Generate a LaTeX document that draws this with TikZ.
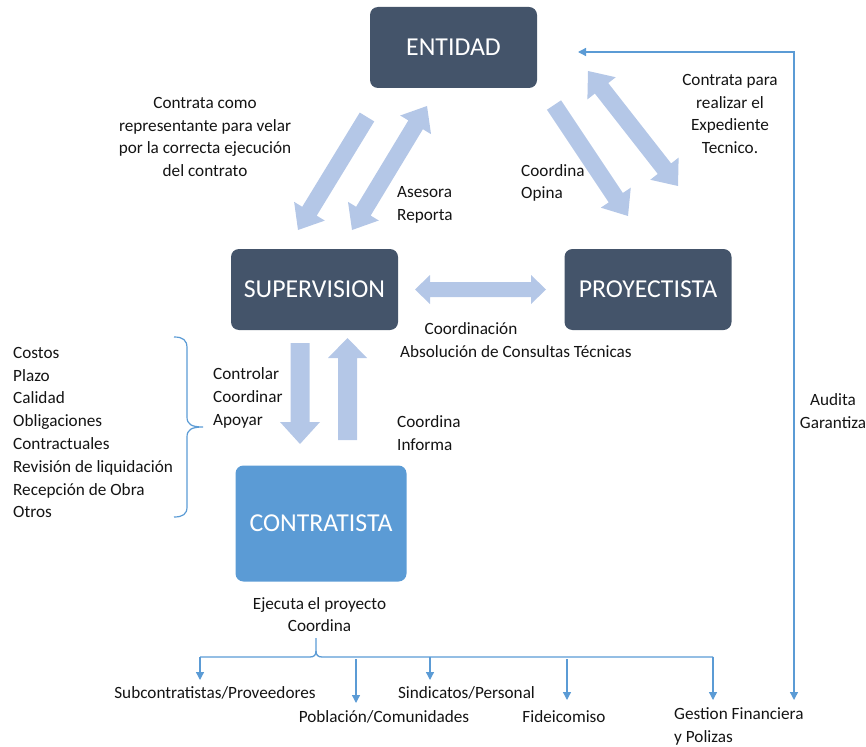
\documentclass[tikz,border=0pt]{standalone}
\usepackage{fontspec}
\setmainfont{Carlito}
\usetikzlibrary{calc,arrows.meta}

\definecolor{boxdark}{HTML}{44546A}
\definecolor{boxblue}{HTML}{5B9BD5}
\definecolor{flowfill}{HTML}{B4C7E7}
\definecolor{linkblue}{HTML}{5B9BD5}

% wide flat arrow: tail, tip, shaft half width, head half width, head length
\newcommand\flowarrow[5]{%
  \coordinate (fa-h) at ($(#2)!#5!(#1)$);
  \fill[flowfill] ($(#1)!#3!90:(#2)$) -- ($(fa-h)!#3!90:(#2)$) -- ($(fa-h)!#4!90:(#2)$)
    -- (#2) -- ($(fa-h)!#4!-90:(#2)$) -- ($(fa-h)!#3!-90:(#2)$) -- ($(#1)!#3!-90:(#2)$) -- cycle;}
% the same with a head at both ends
\newcommand\flowdarrow[5]{%
  \coordinate (fa-h) at ($(#2)!#5!(#1)$);
  \coordinate (fa-t) at ($(#1)!#5!(#2)$);
  \fill[flowfill] (#1) -- ($(fa-t)!#4!90:(#2)$) -- ($(fa-t)!#3!90:(#2)$)
    -- ($(fa-h)!#3!90:(#2)$) -- ($(fa-h)!#4!90:(#2)$) -- (#2)
    -- ($(fa-h)!#4!-90:(#2)$) -- ($(fa-h)!#3!-90:(#2)$)
    -- ($(fa-t)!#3!-90:(#2)$) -- ($(fa-t)!#4!-90:(#2)$) -- cycle;}

\tikzset{
  darkbox/.style={rounded corners=8pt, fill=boxdark, text=white, inner sep=0pt,
    minimum width=167pt, minimum height=81pt, font=\fontsize{25.8}{30}\selectfont},
  bluebox/.style={darkbox, fill=boxblue, minimum width=171pt, minimum height=116pt},
  lbl/.style={inner sep=0pt, font=\fontsize{17.2}{22.8}\selectfont, text=black!92},
  link/.style={draw=linkblue, line width=1.3pt},
  linkarrow/.style={link, -{Triangle[width=8pt,length=8pt]}},
  brace/.style={draw=linkblue, line width=1.2pt}
}

\begin{document}
\begin{tikzpicture}[x=1pt,y=-1pt]
\useasboundingbox (0,0) rectangle (866,746);

% main boxes
\node[darkbox] (ent) at (453.5,47.5) {ENTIDAD};
\node[darkbox] (sup) at (314.5,289.5) {SUPERVISION};
\node[darkbox] (pro) at (648,289.5) {PROYECTISTA};
\node[bluebox] (con) at (321,523.5) {CONTRATISTA};

% flat arrows between the boxes
\coordinate (a1s) at (367,117);  \coordinate (a1e) at (298,230);
\coordinate (a2s) at (352,230);  \coordinate (a2e) at (427,106);
\coordinate (a3s) at (554,105);  \coordinate (a3e) at (628,216);
\coordinate (a4s) at (588,71);   \coordinate (a4e) at (678,186);
\coordinate (a5s) at (415,289.5);\coordinate (a5e) at (546,289.5);
\coordinate (a6s) at (300,343);  \coordinate (a6e) at (300,444);
\coordinate (a7s) at (347.5,440);\coordinate (a7e) at (347.5,338);
\flowarrow{a1s}{a1e}{8.5pt}{18pt}{22pt}
\flowdarrow{a2s}{a2e}{8.5pt}{18pt}{22pt}
\flowarrow{a3s}{a3e}{8.5pt}{18pt}{22pt}
\flowdarrow{a4s}{a4e}{8.5pt}{18pt}{22pt}
\flowdarrow{a5s}{a5e}{7.5pt}{14.5pt}{15pt}
\flowarrow{a6s}{a6e}{9.5pt}{20pt}{22pt}
\flowarrow{a7s}{a7e}{9.5pt}{19.5pt}{20pt}

% labels of the relations
\node[lbl, align=center] (t1) at (205,137) {Contrata como\\representante para velar\\por la correcta ejecución\\del contrato};
\node[lbl, align=left, anchor=west] (t2) at (397,205) {Asesora\\Reporta};
\node[lbl, align=left, anchor=west] (t3) at (521,183) {Coordina\\Opina};
\node[lbl, align=center] (t4) at (730,114) {Contrata para\\realizar el\\Expediente\\Tecnico.};
\node[lbl] (t5) at (471,329) {Coordinación};
\node[lbl] (t6) at (516,352) {Absolución de Consultas Técnicas};
\node[lbl, align=left, anchor=west] (t7) at (213,398) {Controlar\\Coordinar\\Apoyar};
\node[lbl, align=left, anchor=west] (t8) at (397,433) {Coordina\\Informa};
\node[lbl, align=left, anchor=west] (t9) at (13,432.5) {Costos\\Plazo\\Calidad\\Obligaciones\\Contractuales\\Revisión de liquidación\\Recepción de Obra\\Otros};
\node[lbl, align=center] (t10) at (319.5,614.5) {Ejecuta el proyecto\\Coordina};
\node[lbl, align=center] (t11) at (833,411) {Audita\\Garantiza};

% brace grouping the supervision tasks
\draw[brace] (174,337) .. controls (183,337) and (187,340) .. (187,348) -- (187,417)
  .. controls (187,424) and (191,427) .. (203,427)
  .. controls (191,427) and (187,430) .. (187,437) -- (187,507)
  .. controls (187,514) and (183,517) .. (174,517);

% parties coordinated by the contractor
\node[lbl] (b1) at (215,693) {Subcontratistas/Proveedores};
\node[lbl] (b2) at (384,717) {Población/Comunidades};
\node[lbl] (b3) at (466.5,693) {Sindicatos/Personal};
\node[lbl] (b4) at (564,717) {Fideicomiso};
\node[lbl, align=left, anchor=west] (b5) at (674,726.5) {Gestion Financiera\\y Polizas};

\coordinate (tr0) at (316,638);
\coordinate (tr1) at (316,651);
\coordinate (trl) at (310,657);
\coordinate (trr) at (322,657);
\coordinate (h1) at (200,657);  \coordinate (e1) at (200,680);
\coordinate (h2) at (356,659);  \coordinate (e2) at (356,703);
\coordinate (h3) at (430,657);  \coordinate (e3) at (430,680);
\coordinate (h4) at (567,659);  \coordinate (e4) at (567,700);
\coordinate (h5) at (713,657);  \coordinate (e5) at (713,700);
\draw[link] (tr0) -- (tr1) .. controls (316,655) and (314,657) .. (trl) -- (h1);
\draw[link] (tr1) .. controls (316,655) and (318,657) .. (trr) -- (h5);
\draw[linkarrow] (h1) -- (e1);
\draw[linkarrow] (h2) -- (e2);
\draw[linkarrow] (h3) -- (e3);
\draw[linkarrow] (h4) -- (e4);
\draw[linkarrow] (h5) -- (e5);

% audit line from the finance side back to the entity
\coordinate (r0) at (794,700);
\coordinate (r1) at (794,52);
\coordinate (r2) at (578,52);
\draw[link, {Triangle[width=8pt,length=8pt]}-{Triangle[width=8pt,length=8pt]}] (r0) -- (r1) -- (r2);
\end{tikzpicture}
\end{document}
